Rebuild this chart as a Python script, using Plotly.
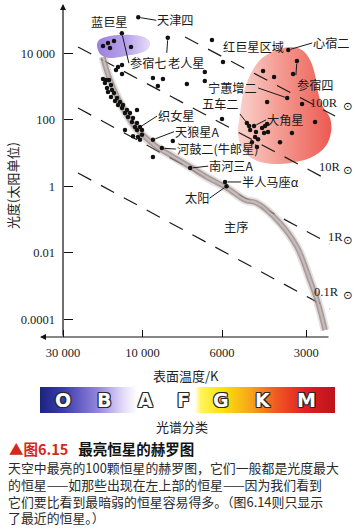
import numpy as np
import plotly.graph_objects as go

W, H = 355, 529

# ---------------- data ----------------
temp_ticks = [30000, 10000, 6000, 3000]
temp_tick_text = ["30 000", "10 000", "6000", "3000"]
lum_ticks = [1e4, 1e2, 1, 1e-2, 1e-4]
lum_tick_text = ["10 000", "100", "1", "0.01", "0.0001"]

# unnamed bright stars (surface temperature K, luminosity in solar units)
star_T = [17260, 16110, 14830, 15670, 11720,
          6400, 5950, 6700, 6700, 7520,
          9350, 8770, 9060,
          13270, 14030, 14420, 13270,
          17260, 16560, 15890, 16800, 15450, 16330, 15240, 16110, 14830, 15450,
          14220, 14620, 13650, 14030, 13090, 13270, 12390, 10790, 12740, 11890,
          12220, 11400, 11560, 10790, 11090, 12740, 10790, 10070, 10070, 11400,
          10640, 10350,
          8230, 9350, 6000,
          4280, 3910, 3345, 4140, 3106, 2791, 3375, 3724,
          4800, 4760, 4535, 4315, 4210, 4140, 4245, 4110, 4570, 4460, 4690, 4500]
star_L = [16500, 20300, 23300, 14400, 15400,
          24900, 5440, 2720, 1460, 1190,
          1800, 1680, 1030,
          4430, 3850, 3130, 2370,
          1680, 1570, 1570, 1270, 1110, 900, 780, 680, 635, 480,
          450, 365, 340, 277, 277, 225, 196, 196, 159, 159,
          121, 112, 85, 80, 60, 49, 49, 49, 35, 32,
          30, 25,
          23, 7.6, 105,
          2920, 1930, 2370, 340, 297, 85, 40, 21,
          65, 49, 43, 56, 65, 74, 40, 43, 30, 26, 21, 15]

named_stars = ["天津四", "参宿七", "老人星", "心宿二", "参宿四", "宁蕙增二", "五车二",
               "大角星", "织女星", "天狼星A", "河鼓二(牛郎星)", "南河三A", "半人马座α", "太阳"]
named_T = [10600, 13300, 8500, 3480, 3240, 3510, 4890, 4610, 10350, 9350, 8830, 7360, 5850, 5780]
named_L = [1.2e5, 4.0e4, 2.9e4, 1.25e4, 5800, 450, 80, 65, 60, 25, 14, 3.5, 1.34, 1.0]

# main-sequence band
ms_T = [17260, 16560, 15670, 14620, 13650, 12390, 11090, 9840, 9110, 8275, 7360, 6480,
        5750, 4963, 4500, 3724, 3236, 2908, 2723, 2570]
ms_L = [7700, 3590, 1570, 680, 340, 138, 60, 30, 15, 8.1, 3.8, 1.65,
        0.88, 0.385, 0.31, 0.078, 0.0148, 0.0015, 3.07e-4, 4.7e-5]

# lines of constant radius
radius_labels = ["100R", "10R", "1R", "0.1R"]
radius_T0 = [7610, 24380, 24380, 24380]
radius_L0 = [30700, 15400, 225, 2.49]
radius_T1 = [2367, 2468, 2468, 2468]
radius_L1 = [129, 1.43, 0.0183, 2.03e-4]

# regions
giant_T = [3430, 3106, 2908, 2791, 2723, 2636, 2468, 2447, 2570, 2908, 3430, 4040,
           4570, 5050, 5260, 5180, 5050, 4760, 4390, 3975, 3430]
giant_L = [15400, 12500, 6250, 2210, 680, 277, 112, 43, 15, 7.0, 5.0, 4.7,
           6.1, 12.3, 35, 138, 553, 2210, 6250, 10900, 15400]
blue_T = [18750, 18240, 16560, 14030, 11560, 9900, 9530, 9650, 10350, 12740, 15670, 17740, 18750]
blue_L = [16500, 24900, 30700, 35300, 35300, 30700, 21700, 13400, 10100, 8240, 7180, 8840, 16500]

spectral_classes = ["O", "B", "A", "F", "G", "K", "M"]
spectral_T = [30000, 17000, 9800, 7700, 6050, 4300, 3000]

# ---------------- scales ----------------
TICK_POS = [0.0, 1.0, 2.0, 3.06]
PX_PER_U, X0_PX = 79.5, 63.0
PX_PER_DEX, Y1_PX = 33.25, 186.2


def xpos(T):
    t = -np.log10(np.asarray(T, dtype=float))
    kx = -np.log10(np.asarray(temp_ticks, dtype=float))
    ku = np.asarray(TICK_POS)
    u = np.interp(t, kx, ku)
    u = np.where(t < kx[0], ku[0] + (t - kx[0]) * (ku[1] - ku[0]) / (kx[1] - kx[0]), u)
    u = np.where(t > kx[-1], ku[-1] + (t - kx[-1]) * (ku[-1] - ku[-2]) / (kx[-1] - kx[-2]), u)
    return u


def P(px, py):
    return px / W, 1 - py / H


xr = [(0 - X0_PX) / PX_PER_U, (W - X0_PX) / PX_PER_U]
yr = [(Y1_PX - H) / PX_PER_DEX, Y1_PX / PX_PER_DEX]

fig = go.Figure()

# regions
fig.add_trace(go.Scatter(x=xpos(giant_T), y=giant_L, mode="lines", line=dict(width=0, shape="spline"),
                         fill="toself",
                         fillgradient=dict(type="horizontal",
                                           colorscale=[[0, "#f9d3cd"], [0.45, "#f49b92"], [1, "#ec5a52"]]),
                         hoverinfo="skip"))
fig.add_trace(go.Scatter(x=xpos(blue_T), y=blue_L, mode="lines", line=dict(width=0, shape="spline"),
                         fill="toself",
                         fillgradient=dict(type="horizontal",
                                           colorscale=[[0, "#9c80dc"], [0.55, "#b7a2ea"], [1, "#e6ddf8"]]),
                         hoverinfo="skip"))

# radius lines
for i in range(len(radius_labels)):
    fig.add_trace(go.Scatter(x=xpos([radius_T0[i], radius_T1[i]]), y=[radius_L0[i], radius_L1[i]],
                             mode="lines", line=dict(color="#1a1a1a", width=1.2, dash="15px,11px"),
                             hoverinfo="skip"))

# main sequence band
msx = xpos(ms_T)
fig.add_trace(go.Scatter(x=msx, y=ms_L, mode="lines",
                         line=dict(color="rgba(170,155,155,0.3)", width=9, shape="spline"), hoverinfo="skip"))
fig.add_trace(go.Scatter(x=msx, y=ms_L, mode="lines",
                         line=dict(color="rgba(150,132,132,0.75)", width=5.5, shape="spline"), hoverinfo="skip"))
fig.add_trace(go.Scatter(x=msx, y=ms_L, mode="lines",
                         line=dict(color="rgba(205,195,193,0.85)", width=2, shape="spline"), hoverinfo="skip"))

# stars
fig.add_trace(go.Scatter(x=xpos(star_T), y=star_L, mode="markers",
                         marker=dict(color="#111", size=4.5), hoverinfo="skip"))
fig.add_trace(go.Scatter(x=xpos(named_T), y=named_L, mode="markers",
                         marker=dict(color="#111", size=4.5), hoverinfo="skip"))

# spectral bar (secondary axes)
fig.add_trace(go.Scatter(x=[0, 1, 1, 0, 0], y=[0, 0, 1, 1, 0], xaxis="x2", yaxis="y2",
                         mode="lines", line=dict(width=0), fill="toself",
                         fillgradient=dict(type="horizontal", colorscale=[
                             [0, "#1c2480"], [0.08, "#3b3cae"], [0.2, "#9888de"], [0.28, "#e2d9f7"],
                             [0.33, "#ffffff"], [0.525, "#ffffff"], [0.545, "#fff45a"], [0.62, "#fde10a"],
                             [0.72, "#f6a01b"], [0.8, "#f05a22"], [0.9, "#e21e24"], [1, "#bd141c"]]),
                         hoverinfo="skip"))

CJK = "Noto Sans CJK SC"
SERIF = "Liberation Serif"
ann = []


def txt(px, py, text, font, xanchor="center", yanchor="middle", **kw):
    x, y = P(px, py)
    d = dict(x=x, y=y, xref="paper", yref="paper", text=text, showarrow=False,
             xanchor=xanchor, yanchor=yanchor, font=font)
    d.update(kw)
    ann.append(d)


# star labels with leader lines
label_layout = {
    "天津四": (18, 3, "left", "middle"),
    "参宿七": (7, 30, "left", "middle"),
    "老人星": (-1, 15, "left", "top"),
    "心宿二": (24, -7, "left", "middle"),
    "参宿四": (-1, 14, "left", "top"),
    "宁蕙增二": (-29, -10, "right", "middle"),
    "五车二": (-7, -9, "right", "bottom"),
    "大角星": (12, -6, "left", "middle"),
    "织女星": (17, -11, "left", "middle"),
    "天狼星A": (21, -8, "left", "middle"),
    "河鼓二(牛郎星)": (14, 1, "left", "middle"),
    "南河三A": (18, -2, "left", "middle"),
    "半人马座α": (16, 0, "left", "middle"),
    "太阳": (-17, 12, "right", "middle"),
}
lab_font = dict(family=CJK, size=12.2, color="#1a1a1a")
nx = xpos(named_T)
for name, xv, L in zip(named_stars, nx, named_L):
    ax, ay, xa, ya = label_layout[name]
    ann.append(dict(x=float(xv), y=float(np.log10(L)), xref="x", yref="y", text=name,
                    showarrow=True, arrowhead=0, arrowwidth=1, arrowcolor="#1a1a1a",
                    ax=ax, ay=ay, xanchor=xa, yanchor=ya, standoff=2.5, borderpad=0,
                    font=lab_font))

# region / plain labels
txt(110, 22, "蓝巨星", lab_font)
txt(253, 47, "红巨星区域", lab_font)
txt(236, 227, "主序", lab_font)

# radius labels
radius_label_pos = [(324, 103), (330, 167), (335, 237), (326, 292)]
for lab, (px, py) in zip(radius_labels, radius_label_pos):
    txt(px, py, lab, dict(family=SERIF, size=12.5, color="#1a1a1a"))
    txt(348, py + 3, "⊙", dict(family="DejaVu Sans", size=11.5, color="#1a1a1a"))

# axis arrows
x, y = P(63, 4)
ann.append(dict(x=x, y=y, xref="paper", yref="paper", text="", showarrow=True, ax=0, ay=333,
                arrowhead=2, arrowsize=1, arrowwidth=1.2, arrowcolor="#111"))
x, y = P(40, 337)
ann.append(dict(x=x, y=y, xref="paper", yref="paper", text="", showarrow=True, ax=290, ay=0,
                arrowhead=2, arrowsize=1, arrowwidth=1.2, arrowcolor="#111"))

# axis titles
txt(12, 186, "光度(太阳单位)", dict(family=CJK, size=13, color="#222"), textangle=-90)
txt(186, 375, "表面温度/K", dict(family=CJK, size=13, color="#222"))

# spectral letters
outline = ("1px 1px 0 #2a2a2a, -1px -1px 0 #2a2a2a, 1px -1px 0 #2a2a2a, -1px 1px 0 #2a2a2a, "
           "0 1px 0 #2a2a2a, 1px 0 0 #2a2a2a, -1px 0 0 #2a2a2a, 0 -1px 0 #2a2a2a")
_, ybar = P(0, 400)
for c, xv in zip(spectral_classes, xpos(spectral_T)):
    ann.append(dict(x=float(xv), y=ybar, xref="x", yref="paper", text=c, showarrow=False,
                    xanchor="center", yanchor="middle",
                    font=dict(family="DejaVu Sans", size=19, color="white", weight="bold", shadow=outline)))
txt(182, 426, "光谱分类", dict(family=CJK, size=13, color="#222"))

# caption
txt(7, 448, '<b><span style="color:#d6261d">▲图6.15</span>   最亮恒星的赫罗图</b>',
    dict(family=CJK, size=14.5, color="#111"), xanchor="left")
caption_lines = ["天空中最亮的100颗恒星的赫罗图，它们一般都是光度最大",
                 "的恒星——如那些出现在左上部的恒星——因为我们看到",
                 "它们要比看到最暗弱的恒星容易得多。（图6.14则只显示",
                 "了最近的恒星。）"]
txt(7, 528, "<br>".join(caption_lines), dict(family=CJK, size=12.9, color="#2a2a2a"),
    xanchor="left", yanchor="bottom", align="left", borderpad=0)

fig.update_layout(
    width=W, height=H, margin=dict(l=0, r=0, t=0, b=0),
    paper_bgcolor="white", plot_bgcolor="rgba(0,0,0,0)",
    showlegend=False, hovermode=False,
    xaxis=dict(range=xr, domain=[0, 1], showgrid=False, zeroline=False, showline=False,
               tickvals=list(xpos(temp_ticks)), ticktext=temp_tick_text, ticks="inside",
               ticklen=7, tickwidth=1.2, tickcolor="#111", anchor="free", position=1 - 337 / H,
               ticklabelstandoff=6, tickfont=dict(family=SERIF, size=12.5, color="#222")),
    yaxis=dict(type="log", range=yr, domain=[0, 1], showgrid=False, zeroline=False, showline=False,
               tickvals=lum_ticks, ticktext=lum_tick_text, ticks="inside", ticklen=9,
               tickwidth=1.2, tickcolor="#111", anchor="free", position=X0_PX / W,
               ticklabelstandoff=8, tickfont=dict(family=SERIF, size=12.5, color="#222")),
    xaxis2=dict(domain=[40 / W, 335 / W], range=[0, 1], visible=False, anchor="y2"),
    yaxis2=dict(domain=[1 - 413 / H, 1 - 387 / H], range=[0, 1], visible=False, anchor="x2"),
    annotations=ann,
)

fig.write_html("out.html")
